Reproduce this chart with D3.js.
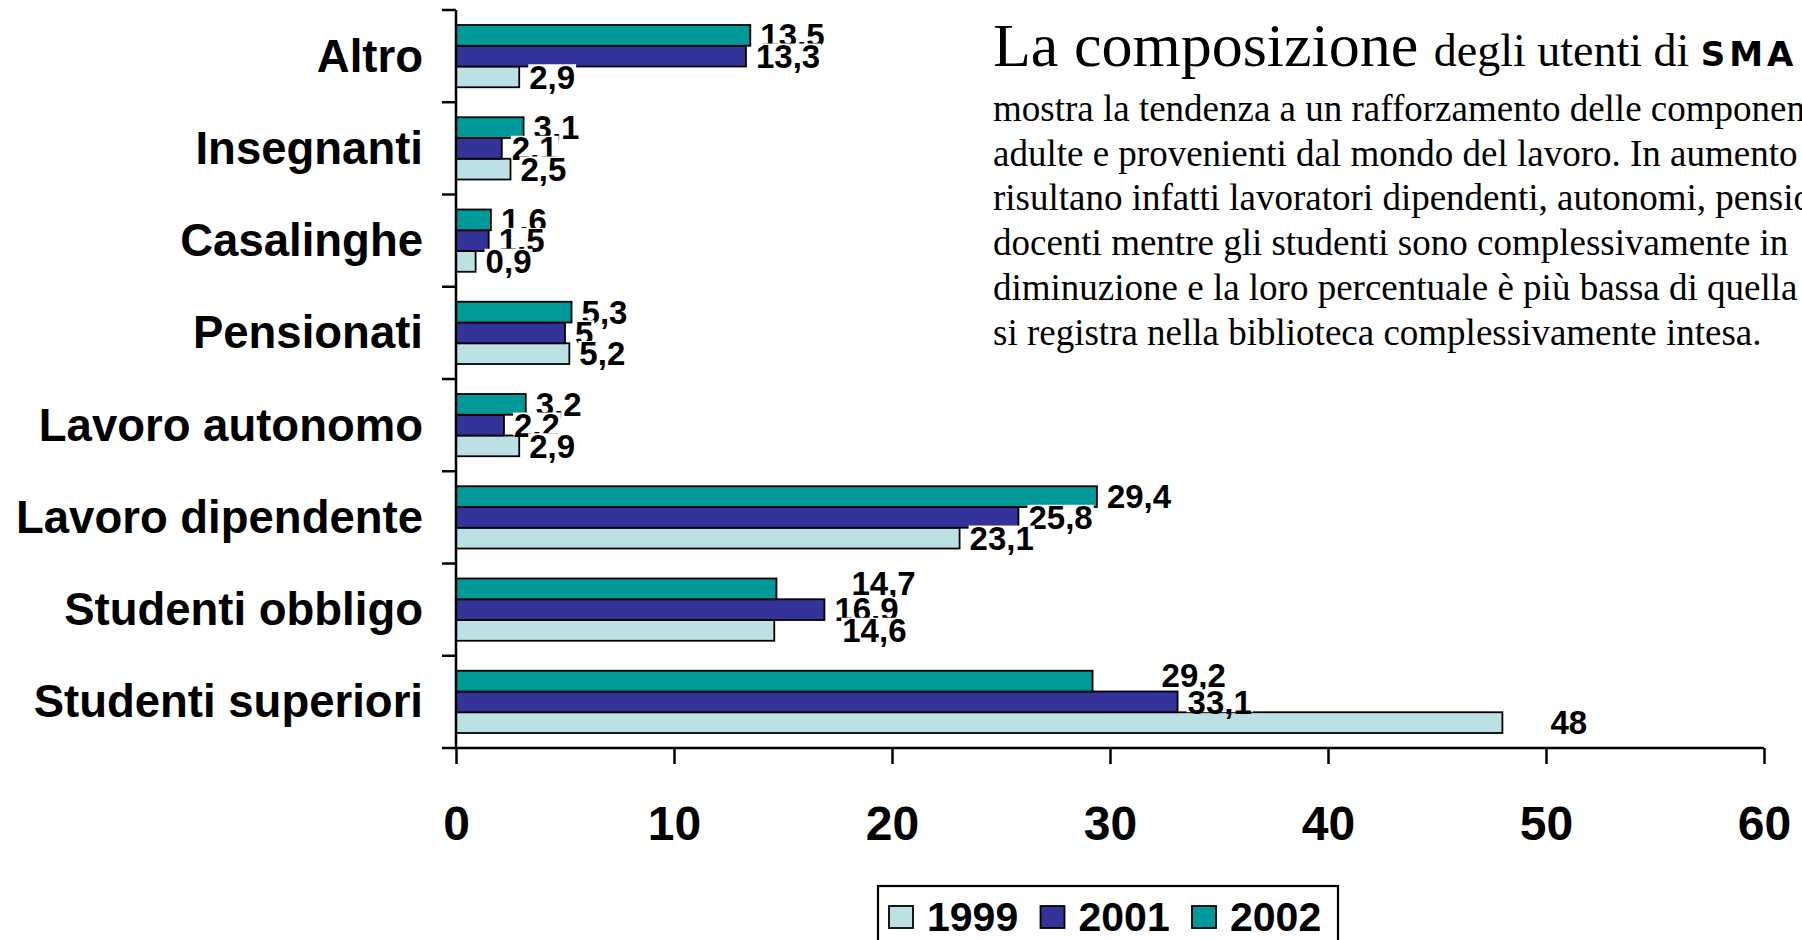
<!DOCTYPE html>
<html>
<head>
<meta charset="utf-8">
<script src="https://cdn.jsdelivr.net/npm/d3@7"></script>
<style>
  html, body { margin: 0; padding: 0; background: #ffffff; overflow: hidden; }
  svg { display: block; }
</style>
</head>
<body>
<svg id="chart" width="1802" height="940"></svg>
<script>
// ---- data ----
const categories = ["Altro", "Insegnanti", "Casalinghe", "Pensionati", "Lavoro autonomo",
                    "Lavoro dipendente", "Studenti obbligo", "Studenti superiori"];
const seriesNames = ["1999", "2001", "2002"];
const values1999 = [2.9, 2.5, 0.9, 5.2, 2.9, 23.1, 14.6, 48];
const values2001 = [13.3, 2.1, 1.5, 5, 2.2, 25.8, 16.9, 33.1];
const values2002 = [13.5, 3.1, 1.6, 5.3, 3.2, 29.4, 14.7, 29.2];
const xTickValues = [0, 10, 20, 30, 40, 50, 60];

const titleLarge = "La composizione";
const titleSmall = "degli utenti di";
const titleBrand = "SMA";
const bodyLines = [
  "mostra la tendenza a un rafforzamento delle componenti",
  "adulte e provenienti dal mondo del lavoro. In aumento",
  "risultano infatti lavoratori dipendenti, autonomi, pensionati",
  "docenti mentre gli studenti sono complessivamente in",
  "diminuzione e la loro percentuale è più bassa di quella",
  "si registra nella biblioteca complessivamente intesa."
];

// ---- styling ----
const seriesColors = { "1999": "#BCE1E4", "2001": "#333399", "2002": "#009999" };
const SANS = "'Liberation Sans', Arial, Helvetica, sans-serif";
const SERIF = "'Liberation Serif', 'Times New Roman', Times, serif";

// label shifts (px) for the few value labels the original layout pushed aside
const labelShift = {
  "Studenti superiori|1999": [38, 0],
  "Studenti superiori|2002": [59, -6],
  "Studenti obbligo|2002": [65, -6],
  "Studenti obbligo|1999": [58, 0]
};

const seriesValues = { "1999": values1999, "2001": values2001, "2002": values2002 };
const rows = categories.map((c, i) => ({
  category: c,
  values: seriesNames.map(s => ({ series: s, value: seriesValues[s][i], category: c }))
}));

const svg = d3.select("#chart");

// ---- scales ----
const x = d3.scaleLinear().domain([0, 60]).range([456, 1764]);
const y = d3.scaleBand().domain(categories).range([10, 748]).padding(0);
const groupH = y.bandwidth() * 0.675;
const inner = d3.scaleBand().domain(["2002", "2001", "1999"]).range([0, groupH]);
const groupOff = (y.bandwidth() - groupH) / 2;

// ---- bars ----
const groups = svg.append("g").selectAll("g.cat")
  .data(rows).join("g")
  .attr("class", "cat")
  .attr("transform", d => `translate(0,${y(d.category) + groupOff})`);

groups.selectAll("rect")
  .data(d => d.values).join("rect")
  .attr("x", x(0))
  .attr("y", d => inner(d.series))
  .attr("width", d => x(d.value) - x(0))
  .attr("height", inner.bandwidth())
  .attr("fill", d => seriesColors[d.series])
  .attr("stroke", "#000")
  .attr("stroke-width", 1.8);

// ---- axes ----
const axisG = svg.append("g").attr("stroke", "#000").attr("stroke-width", 2.5);
// vertical axis line and category boundary ticks
axisG.append("line")
  .attr("x1", x(0)).attr("x2", x(0))
  .attr("y1", y.range()[0]).attr("y2", y.range()[1]);
const boundaries = categories.map(c => y(c)).concat([y.range()[1]]);
axisG.selectAll("line.ytick").data(boundaries).join("line")
  .attr("class", "ytick")
  .attr("x1", x(0) - 14).attr("x2", x(0))
  .attr("y1", d => d).attr("y2", d => d);
// horizontal axis line
axisG.append("line")
  .attr("x1", x(0)).attr("x2", x(60))
  .attr("y1", y.range()[1]).attr("y2", y.range()[1]);

const xAxis = d3.axisBottom(x)
  .tickValues(xTickValues)
  .tickSize(16)
  .tickSizeOuter(0)
  .tickPadding(42)
  .tickFormat(d3.format("d"));
const xAxisG = svg.append("g")
  .attr("transform", `translate(0,${y.range()[1]})`)
  .call(xAxis);
xAxisG.select(".domain").remove();
xAxisG.selectAll(".tick line").attr("stroke", "#000").attr("stroke-width", 2.5);
xAxisG.selectAll(".tick text")
  .attr("fill", "#000")
  .style("font-family", SANS)
  .style("font-weight", "bold")
  .style("font-size", "48px");

const yAxis = d3.axisLeft(y).tickSize(0).tickPadding(33);
const yAxisG = svg.append("g")
  .attr("transform", `translate(${x(0)},0)`)
  .call(yAxis);
yAxisG.select(".domain").remove();
yAxisG.selectAll(".tick text")
  .attr("fill", "#000")
  .attr("dy", "0.34em")
  .style("font-family", SANS)
  .style("font-weight", "bold")
  .style("font-size", "45.5px");

// ---- value labels (opaque, drawn 2002 → 2001 → 1999 so later ones sit on top) ----
const LABEL_FS = 33;
const labelLayer = svg.append("g");
["2002", "2001", "1999"].forEach(s => {
  rows.forEach(r => {
    const v = r.values.find(d => d.series === s);
    const shift = labelShift[r.category + "|" + s] || [0, 0];
    const cy = y(r.category) + groupOff + inner(s) + inner.bandwidth() / 2;
    const lx = x(v.value) + 10 + shift[0];
    const baseline = cy + 0.358 * LABEL_FS + shift[1];
    const g = labelLayer.append("g");
    const bg = g.append("rect").attr("fill", "#fff");
    const t = g.append("text")
      .attr("x", lx)
      .attr("y", baseline)
      .attr("fill", "#000")
      .style("font-family", SANS)
      .style("font-weight", "bold")
      .style("font-size", LABEL_FS + "px")
      .text(String(v.value).replace(".", ","));
    const w = t.node().getComputedTextLength();
    bg.attr("x", lx - 1)
      .attr("y", baseline - LABEL_FS * 0.74)
      .attr("width", w + 2)
      .attr("height", LABEL_FS * 0.74 - 1.5);
  });
});

// ---- legend ----
const legend = svg.append("g");
legend.append("rect")
  .attr("x", 878).attr("y", 886)
  .attr("width", 460).attr("height", 90)
  .attr("fill", "#fff")
  .attr("stroke", "#000")
  .attr("stroke-width", 2.2);
const legendX = d3.scalePoint().domain(seriesNames).range([889, 1192]);
const legendItems = legend.selectAll("g.item").data(seriesNames).join("g")
  .attr("class", "item")
  .attr("transform", d => `translate(${legendX(d)},0)`);
legendItems.append("rect")
  .attr("x", 0).attr("y", 906)
  .attr("width", 24).attr("height", 22)
  .attr("fill", d => seriesColors[d])
  .attr("stroke", "#000")
  .attr("stroke-width", 1.8);
legendItems.append("text")
  .attr("x", 38).attr("y", 931)
  .attr("fill", "#000")
  .style("font-family", SANS)
  .style("font-weight", "bold")
  .style("font-size", "41px")
  .text(d => d);

// ---- commentary text ----
const title = svg.append("text")
  .attr("x", 993).attr("y", 66)
  .attr("fill", "#000")
  .style("font-family", SERIF);
title.append("tspan").style("font-size", "62px").text(titleLarge + " ");
title.append("tspan").style("font-size", "46px").text(titleSmall + " ");
title.append("tspan")
  .style("font-family", "'DejaVu Sans', sans-serif")
  .style("font-weight", "bold")
  .style("font-size", "34px")
  .style("letter-spacing", "4px")
  .text(titleBrand);

svg.append("g").selectAll("text")
  .data(bodyLines).join("text")
  .attr("x", 993)
  .attr("y", (d, i) => 121 + i * 44.7)
  .attr("fill", "#000")
  .style("font-family", SERIF)
  .style("font-size", "37px")
  .text(d => d);
</script>
</body>
</html>
